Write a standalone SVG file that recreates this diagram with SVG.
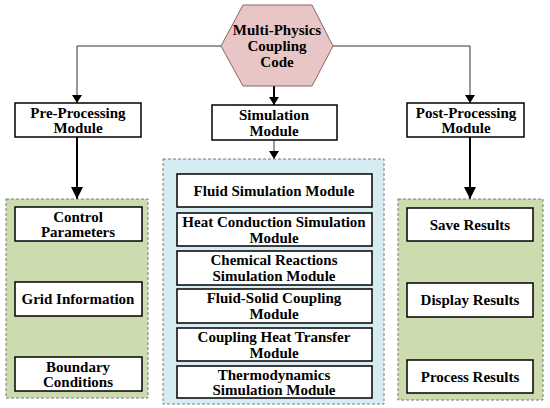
<svg xmlns="http://www.w3.org/2000/svg" width="550" height="408" viewBox="0 0 550 408">
<style>
text{font-family:"Liberation Serif",serif;font-weight:bold;font-size:15px;fill:#000;text-anchor:middle}
.box{fill:#fff;stroke:#000;stroke-width:1.5}
.grn{fill:#cddcaf;stroke:#7a7a7a;stroke-width:1;stroke-dasharray:3,2}
.blu{fill:#d7ecf2;stroke:#7a7a7a;stroke-width:1;stroke-dasharray:3,2}
.thin{fill:none;stroke:#333;stroke-width:1}
.thick{fill:none;stroke:#000;stroke-width:2}
</style>
<defs>
<marker id="a1" markerWidth="8" markerHeight="10" refX="8" refY="5" orient="auto" markerUnits="userSpaceOnUse"><path d="M0,0 L8,5 L0,10 Z" fill="#000"/></marker>
<marker id="a2" markerWidth="12" markerHeight="12" refX="12" refY="6" orient="auto" markerUnits="userSpaceOnUse"><path d="M0,0 L12,6 L0,12 Z" fill="#000"/></marker>
</defs>
<rect width="550" height="408" fill="#fff"/>

<g id="connectors">
<polyline class="thin" points="221,46 77,46 77,103" marker-end="url(#a1)"/>
<polyline class="thin" points="333,46 470,46 470,103" marker-end="url(#a1)"/>
<line class="thick" x1="274" y1="86" x2="274" y2="105" marker-end="url(#a1)"/>
<line class="thin" x1="274" y1="140" x2="274" y2="159" marker-end="url(#a1)"/>
<line class="thick" x1="77" y1="137" x2="77" y2="199" marker-end="url(#a2)"/>
<line class="thick" x1="470" y1="137" x2="470" y2="199" marker-end="url(#a2)"/>
</g>

<g id="hub">
<polygon points="221,46 243,5 312,5 333,46 312,86 243,86" fill="#e8c6c6" stroke="#8c6464" stroke-width="1"/>
<text x="277" y="35">Multi-Physics</text>
<text x="277" y="51">Coupling</text>
<text x="277" y="67">Code</text>
</g>

<g id="pre">
<rect class="box" x="15" y="103" width="126" height="34"/>
<text x="78" y="118">Pre-Processing</text>
<text x="78" y="133">Module</text>
</g>
<g id="sim">
<rect class="box" x="212" y="105" width="125" height="35"/>
<text x="274" y="120">Simulation</text>
<text x="274" y="136">Module</text>
</g>
<g id="post">
<rect class="box" x="407" y="103" width="117" height="34"/>
<text x="466" y="118">Post-Processing</text>
<text x="466" y="133">Module</text>
</g>

<g id="pre-group">
<rect class="grn" x="6" y="199" width="142" height="199"/>
<g id="control"><rect class="box" x="15" y="207" width="127" height="34"/>
<text x="78" y="222">Control</text><text x="78" y="237">Parameters</text></g>
<g id="grid"><rect class="box" x="15" y="282" width="127" height="34"/>
<text x="78" y="304">Grid Information</text></g>
<g id="boundary"><rect class="box" x="15" y="357" width="127" height="34"/>
<text x="78" y="372">Boundary</text><text x="78" y="387">Conditions</text></g>
</g>

<g id="sim-group">
<rect class="blu" x="163" y="159" width="221" height="245"/>
<g id="fluid"><rect class="box" x="177" y="174" width="195" height="33"/>
<text x="274" y="196">Fluid Simulation Module</text></g>
<g id="heat"><rect class="box" x="177" y="213" width="195" height="33"/>
<text x="274" y="227">Heat Conduction Simulation</text><text x="274" y="243">Module</text></g>
<g id="chem"><rect class="box" x="177" y="251" width="195" height="34"/>
<text x="274" y="265">Chemical Reactions</text><text x="274" y="281">Simulation Module</text></g>
<g id="fsc"><rect class="box" x="177" y="289" width="195" height="34"/>
<text x="274" y="303">Fluid-Solid Coupling</text><text x="274" y="319">Module</text></g>
<g id="cht"><rect class="box" x="177" y="328" width="195" height="33"/>
<text x="274" y="342">Coupling Heat Transfer</text><text x="274" y="358">Module</text></g>
<g id="thermo"><rect class="box" x="177" y="366" width="195" height="32"/>
<text x="274" y="380">Thermodynamics</text><text x="274" y="395">Simulation Module</text></g>
</g>

<g id="post-group">
<rect class="grn" x="398" y="199" width="145" height="201"/>
<g id="save"><rect class="box" x="407" y="208" width="126" height="33"/>
<text x="470" y="230">Save Results</text></g>
<g id="display"><rect class="box" x="407" y="283" width="126" height="34"/>
<text x="470" y="305">Display  Results</text></g>
<g id="process"><rect class="box" x="407" y="360" width="126" height="33"/>
<text x="470" y="382">Process Results</text></g>
</g>
</svg>
